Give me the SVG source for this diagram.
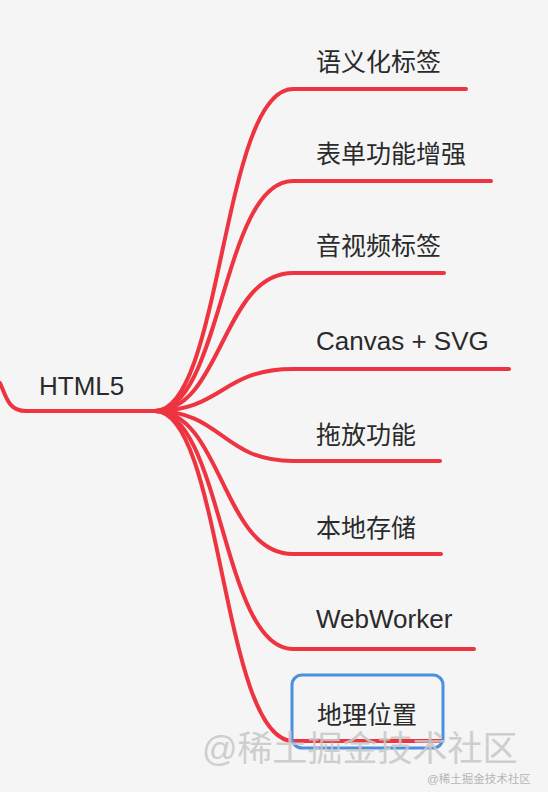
<svg xmlns="http://www.w3.org/2000/svg" width="548" height="792" viewBox="0 0 548 792">
<style>
.bg{fill:#f5f5f5}
.conn{fill:none;stroke:#ee3440;stroke-width:4;stroke-linecap:round}
.lbl{font-family:"Liberation Sans","Noto Sans CJK SC",sans-serif;font-size:25px;fill:#2a2a2a}
.lat{font-size:26px}
.sel{fill:none;stroke:#4a8fe0;stroke-width:3}
.wm{font-family:"Liberation Sans","Noto Sans CJK SC",sans-serif;fill:#c8c8c8}
</style>
<rect class="bg" x="0" y="0" width="548" height="792"/>
<g id="connectors">
<path class="conn" d="M0 383 C6 396 8 411 26 411 L158 411"/>
<path class="conn" d="M155 411 C222 411 222 89 293 89 L466 89"/>
<path class="conn" d="M155 411 C222 411 222 181 293 181 L491 181"/>
<path class="conn" d="M155 411 C222 411 222 273 293 273 L444 273"/>
<path class="conn" d="M155 411 C222 411 222 369 293 369 L509 369"/>
<path class="conn" d="M155 411 C222 411 222 461 293 461 L440 461"/>
<path class="conn" d="M155 411 C222 411 222 554 293 554 L441 554"/>
<path class="conn" d="M155 411 C222 411 222 649 293 649 L474 649"/>
<path class="conn" d="M155 411 C222 411 222 741 293 741 L441 741"/>
</g>
<g id="root"><text class="lbl lat" x="39" y="395">HTML5</text></g>
<g id="n1"><text class="lbl" x="316" y="71">语义化标签</text></g>
<g id="n2"><text class="lbl" x="316" y="163">表单功能增强</text></g>
<g id="n3"><text class="lbl" x="316" y="255">音视频标签</text></g>
<g id="n4"><text class="lbl lat" x="316" y="350">Canvas + SVG</text></g>
<g id="n5"><text class="lbl" x="316" y="444">拖放功能</text></g>
<g id="n6"><text class="lbl" x="316" y="537">本地存储</text></g>
<g id="n7"><text class="lbl lat" x="316" y="628">WebWorker</text></g>
<g id="n8"><rect class="sel" x="292" y="675" width="151" height="73" rx="10"/><text class="lbl" x="317" y="724">地理位置</text></g>
<g id="watermark">
<text class="wm" x="202" y="761" font-size="35" opacity="0.85">@稀土掘金技术社区</text>
<text class="wm" x="427" y="783" font-size="11.5" style="fill:#b5b5b5">@稀土掘金技术社区</text>
</g>
</svg>
